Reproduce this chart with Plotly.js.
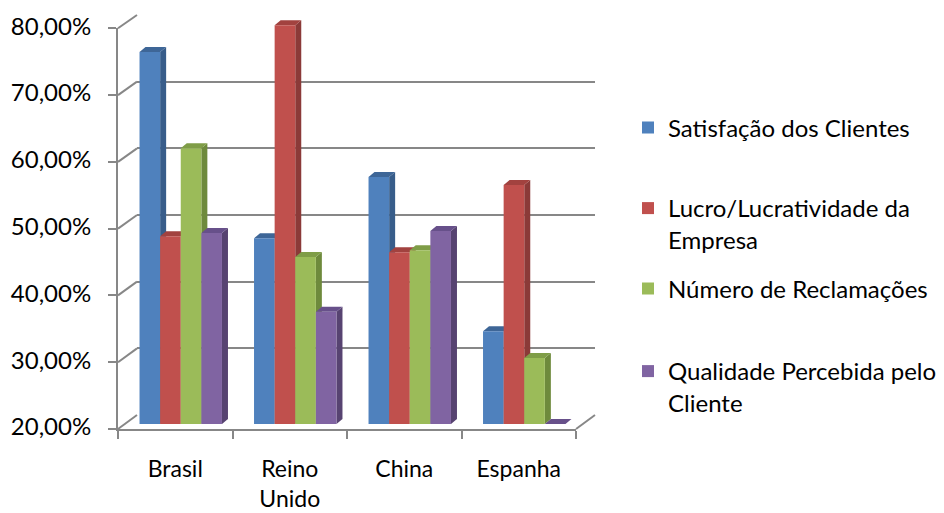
<!DOCTYPE html>
<html>
<head>
<meta charset="utf-8">
<script src="https://cdn.plot.ly/plotly-3.0.1.min.js"></script>
<style>html,body{margin:0;padding:0;background:#fff;}#chart{width:944px;height:513px;}</style>
</head>
<body>
<div id="chart"></div>
<script>
// ---------------- data ----------------
const categories = ['Brasil', 'Reino Unido', 'China', 'Espanha'];
const categoryLabels = ['Brasil', 'Reino<br>Unido', 'China', 'Espanha'];
const seriesNames = ['Satisfação dos Clientes', 'Lucro/Lucratividade da<br>Empresa', 'Número de Reclamações', 'Qualidade Percebida pelo<br>Cliente'];
const satisfacaoClientes = [75.7, 47.8, 57.0, 33.9];
const lucratividade = [48.1, 79.7, 45.7, 55.8];
const numeroReclamacoes = [61.3, 45.0, 46.0, 29.9];
const qualidadePercebida = [48.6, 36.8, 48.9, 20.0];
const yTickVals = [20, 30, 40, 50, 60, 70, 80];
const yTickText = ['20,00%', '30,00%', '40,00%', '50,00%', '60,00%', '70,00%', '80,00%'];

const seriesValues = [satisfacaoClientes, lucratividade, numeroReclamacoes, qualidadePercebida];

// ---------------- style / geometry ----------------
const W = 944, H = 513;
const FRONT = {l: 118, r: 576, t: 28.3, b: 429};
const BACK = {l: 137, r: 595, t: 15, b: 415};
const BAR_BASE_PX = 424, BAR_SHIFT_PX = 5.5;
const DEPTH_X_PX = 6, DEPTH_Y_PX = 5;
const YMIN = 20, YMAX = 80;
const frontColors = ['#4F81BD', '#C0504D', '#9BBB59', '#8064A2'];
const sideColors = ['#385D8A', '#8B3A38', '#6E8A3C', '#574371'];
const topColors = ['#3E6697', '#A2423F', '#7F9D47', '#67508A'];
const gridColor = '#878787';
const FONT = 'Lato, "Open Sans", sans-serif';
const FS = 24;

const px2x = px => px / W;
const py2y = py => 1 - py / H;
const PXU = (FRONT.b - FRONT.t) / (YMAX - YMIN);
const CAT_PX = (FRONT.r - FRONT.l) / categories.length;
const center0 = FRONT.l + CAT_PX / 2 + BAR_SHIFT_PX;
const xr0 = -center0 / CAT_PX, xr1 = (W - center0) / CAT_PX;
const yr1 = YMIN + BAR_BASE_PX / PXU;
const BW = 0.18;
const DX = DEPTH_X_PX / CAT_PX, DY = DEPTH_Y_PX / PXU;

const traces = [];
traces.push({type: 'scatter', x: [null], y: [null], xaxis: 'x', yaxis: 'y', showlegend: false, hoverinfo: 'skip'});

const shapes = [];
seriesValues.forEach((vals, j) => {
  const off = -BW * 2 + BW * j;
  traces.push({
    type: 'bar', name: seriesNames[j], x: categories, y: vals,
    xaxis: 'x2', yaxis: 'y2', width: BW, offset: off,
    marker: {color: frontColors[j], line: {width: 0}},
    legend: j === 0 ? 'legend' : 'legend' + (j + 1),
    hovertemplate: '%{x}: %{y:.2f}%<extra>' + seriesNames[j].replace('<br>', ' ') + '</extra>'
  });
  vals.forEach((v, i) => {
    const xl = i + off, xr = i + off + BW;
    shapes.push({type: 'path', xref: 'x2', yref: 'y2', layer: 'between',
      path: `M${xr},${YMIN} L${xr},${v} L${xr + DX},${v + DY} L${xr + DX},${YMIN + DY} Z`,
      fillcolor: sideColors[j], line: {width: 0}});
    shapes.push({type: 'path', xref: 'x2', yref: 'y2', layer: 'between',
      path: `M${xl},${v} L${xr},${v} L${xr + DX},${v + DY} L${xl + DX},${v + DY} Z`,
      fillcolor: topColors[j], line: {width: 0}});
  });
});
traces.push({type: 'scatter', x: [null], y: [null], xaxis: 'x3', yaxis: 'y3', showlegend: false, hoverinfo: 'skip'});

// side-wall diagonals
yTickVals.forEach(t => {
  const fy = FRONT.t + (YMAX - t) / (YMAX - YMIN) * (FRONT.b - FRONT.t);
  const by = BACK.t + (YMAX - t) / (YMAX - YMIN) * (BACK.b - BACK.t);
  shapes.push({type: 'line', xref: 'paper', yref: 'paper', layer: 'above',
    x0: px2x(FRONT.l), y0: py2y(fy), x1: px2x(BACK.l), y1: py2y(by),
    line: {color: gridColor, width: 2}});
});
shapes.push({type: 'line', xref: 'paper', yref: 'paper', layer: 'above',
  x0: px2x(FRONT.r), y0: py2y(FRONT.b), x1: px2x(BACK.r), y1: py2y(BACK.b),
  line: {color: gridColor, width: 2}});

const legendBase = {xanchor: 'left', yanchor: 'middle', valign: 'top', bgcolor: 'rgba(0,0,0,0)',
  font: {family: FONT, size: FS, color: '#000'}, itemclick: false, itemdoubleclick: false};
const LEG_X = px2x(628);
const legendY = [128, 224, 289, 387];

const layout = {
  width: W, height: H,
  margin: {l: 0, r: 0, t: 0, b: 0},
  paper_bgcolor: '#fff', plot_bgcolor: 'rgba(0,0,0,0)',
  font: {family: FONT, size: FS, color: '#000'},
  barmode: 'overlay',
  xaxis: {domain: [px2x(BACK.l), px2x(BACK.r)], anchor: 'y', range: [0, 1], visible: false, fixedrange: true},
  yaxis: {domain: [py2y(BACK.b), py2y(BACK.t)], anchor: 'x', range: [YMIN, YMAX], tickvals: yTickVals,
    showgrid: true, gridcolor: gridColor, gridwidth: 2, showticklabels: false, ticks: '',
    zeroline: false, showline: false, fixedrange: true},
  xaxis2: {domain: [0, 1], anchor: 'y2', type: 'category', categoryorder: 'array', categoryarray: categories,
    range: [xr0, xr1], visible: false, fixedrange: true},
  yaxis2: {domain: [py2y(BAR_BASE_PX), 1], anchor: 'x2', range: [YMIN, yr1], visible: false, fixedrange: true},
  xaxis3: {domain: [px2x(FRONT.l), px2x(FRONT.r)], anchor: 'y3', range: [-0.5, categories.length - 0.5],
    tickmode: 'array', tickvals: categories.map((c, i) => i), ticktext: categoryLabels, ticks: '',
    showline: true, linecolor: gridColor, linewidth: 2, showgrid: false, zeroline: false,
    ticklabelstandoff: 18, tickfont: {family: FONT, size: 23, color: '#000'},
    minor: {tickmode: 'array', tickvals: categories.map((c, i) => i - 0.5).concat([categories.length - 0.5]),
      ticks: 'outside', ticklen: 8, tickwidth: 2, tickcolor: gridColor, showgrid: false},
    fixedrange: true},
  yaxis3: {domain: [py2y(FRONT.b), py2y(FRONT.t)], anchor: 'x3', range: [YMIN, YMAX],
    tickmode: 'array', tickvals: yTickVals, ticktext: yTickText,
    ticks: 'outside', ticklen: 8, tickwidth: 2, tickcolor: gridColor,
    showline: true, linecolor: gridColor, linewidth: 2, showgrid: false, zeroline: false,
    ticklabelstandoff: 12, ticklabelshift: -2, tickfont: {family: FONT, size: FS, color: '#000'}, fixedrange: true},
  legend: Object.assign({x: LEG_X, y: py2y(legendY[0])}, legendBase),
  legend2: Object.assign({x: LEG_X, y: py2y(legendY[1])}, legendBase),
  legend3: Object.assign({x: LEG_X, y: py2y(legendY[2])}, legendBase),
  legend4: Object.assign({x: LEG_X, y: py2y(legendY[3])}, legendBase),
  shapes: shapes,
  showlegend: true
};

Plotly.newPlot('chart', traces, layout, {displayModeBar: false});
</script>
</body>
</html>
